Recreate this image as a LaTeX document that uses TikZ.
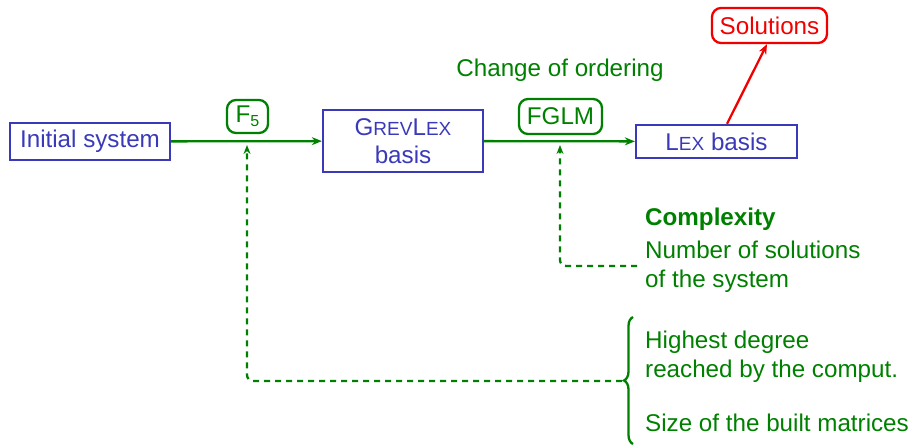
\documentclass[tikz,border=0pt]{standalone}
\usepackage{fontspec}
\setmainfont{Liberation Sans}
\usetikzlibrary{arrows.meta,decorations.pathreplacing}
\definecolor{bboxc}{RGB}{58,58,185}
\definecolor{gc}{RGB}{0,128,0}
\definecolor{rc}{RGB}{240,0,0}
\newcommand{\bigfont}{\fontsize{24.2}{28.4}\selectfont}
\newcommand{\scfont}{\fontsize{19}{20}\selectfont}
\tikzset{
  bbox/.style={draw=bboxc,line width=2.3pt,text=bboxc,inner sep=0pt,font=\bigfont,align=center},
  gbox/.style={draw=gc,line width=2.3pt,text=gc,rounded corners=9pt,inner sep=0pt,font=\bigfont},
  rbox/.style={draw=rc,line width=2.3pt,text=rc,rounded corners=9pt,inner sep=0pt,font=\bigfont},
  gtext/.style={text=gc,inner sep=0pt,font=\bigfont,anchor=base west},
  garrow/.style={draw=gc,line width=2.3pt,-{Stealth[length=10pt,width=8pt]}},
  gdash/.style={draw=gc,line width=2.3pt,dash pattern=on 6pt off 5pt,rounded corners=6pt,-{Stealth[length=9pt,width=7pt]}},
  rarrow/.style={draw=rc,line width=2.3pt,-{Stealth[length=10pt,width=8pt]}}
}
\begin{document}
\begin{tikzpicture}[x=1pt,y=-1pt]
\useasboundingbox (0,0) rectangle (913,445);
\node[bbox,minimum width=160pt,minimum height=37pt] (init) at (90,141.5) {Initial system};
\node[bbox,minimum width=160pt,minimum height=62pt] (grev) at (403,141) {G{\scfont REV}L{\scfont EX}\\basis};
\node[bbox,minimum width=161pt,minimum height=33pt] (lex) at (716.5,141.5) {L{\scfont EX} basis};
\node[gbox,minimum width=41pt,minimum height=33pt] (f5) at (247.5,116.5) {F\raisebox{-0.3ex}{\fontsize{16}{16}\selectfont 5}};
\node[gbox,minimum width=83pt,minimum height=35pt] (fglm) at (560.5,116.5) {FGLM};
\node[rbox,minimum width=115pt,minimum height=35pt] (sol) at (769.5,25.5) {Solutions};
\node[text=gc,inner sep=0pt,font=\bigfont] (chg) at (560,70) {Change of ordering};

\node[gtext] (cplx) at (645,225) {\bfseries Complexity};
\node[gtext] (nsol) at (645,258) {Number of solutions};
\node[gtext] (osys) at (645,287) {of the system};
\node[gtext] (hdeg) at (645,348) {Highest degree};
\node[gtext] (reach) at (645,377) {reached by the comput.};
\node[gtext] (size) at (645,431) {Size of the built matrices};

\coordinate (f5in) at (247,145);
\coordinate (fglmin) at (560,145);
\coordinate (cend) at (637,266);
\coordinate (btip) at (622,381);

\draw[garrow] (init) -- (grev);
\draw[garrow] (grev) -- (lex);
\draw[rarrow] ([xshift=10.5pt]lex.north) -- ([xshift=-2.5pt]sol.south);
\draw[gdash] (cend) -| (fglmin);
\draw[gdash] (btip) -| (f5in);
\draw[gc,line width=2.3pt,decorate,decoration={brace,amplitude=9pt,aspect=0.5}] (633,444) -- (633,317);
\end{tikzpicture}
\end{document}
